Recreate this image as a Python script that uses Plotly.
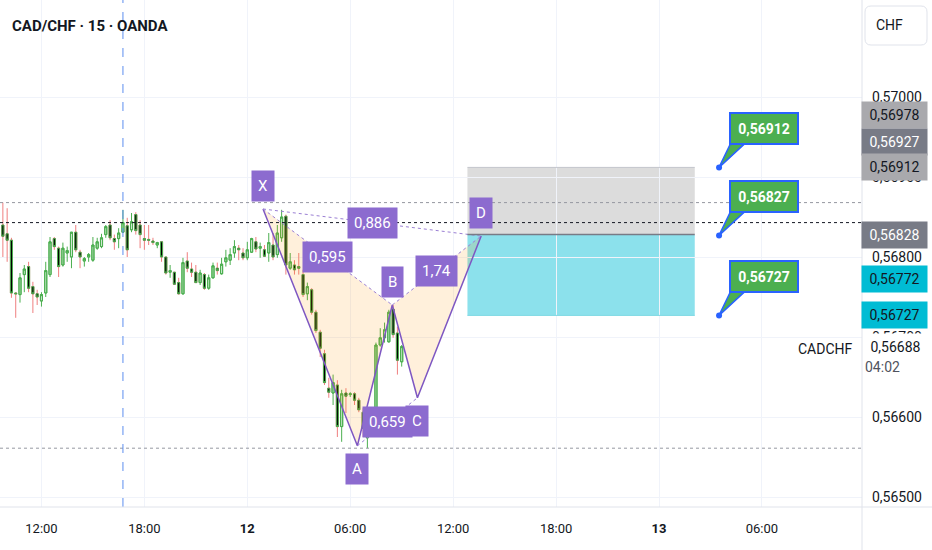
import pandas as pd
import plotly.graph_objects as go

# ---------------- CAD/CHF 15-minute bars ----------------
FIRST_BAR = "2025-03-11 09:45"

opens = [0.56840, 0.56829, 0.56821, 0.56755, 0.56753, 0.56778, 0.56788, 0.56763, 0.56754, 0.56745,
         0.56755, 0.56778, 0.56823, 0.56811, 0.56790, 0.56805, 0.56800, 0.56831, 0.56806, 0.56795,
         0.56800, 0.56796, 0.56811, 0.56813, 0.56828, 0.56840, 0.56823, 0.56823, 0.56831, 0.56839,
         0.56834, 0.56853, 0.56840, 0.56823, 0.56822, 0.56820, 0.56815, 0.56819, 0.56800, 0.56781,
         0.56781, 0.56768, 0.56754, 0.56795, 0.56785, 0.56781, 0.56768, 0.56778, 0.56761, 0.56774,
         0.56786, 0.56779, 0.56794, 0.56796, 0.56805, 0.56811, 0.56805, 0.56799, 0.56806, 0.56819,
         0.56811, 0.56809, 0.56805, 0.56815, 0.56803, 0.56824, 0.56851, 0.56786, 0.56790, 0.56788,
         0.56778, 0.56754, 0.56759, 0.56731, 0.56706, 0.56679, 0.56636, 0.56630, 0.56640, 0.56588,
         0.56630, 0.56628, 0.56629, 0.56621, 0.56606, 0.56574, 0.56593, 0.56605, 0.56690, 0.56699,
         0.56694, 0.56735, 0.56705, 0.56669]
highs = [0.56868, 0.56861, 0.56824, 0.56756, 0.56780, 0.56790, 0.56794, 0.56769, 0.56759, 0.56756,
         0.56794, 0.56825, 0.56825, 0.56813, 0.56818, 0.56813, 0.56831, 0.56840, 0.56809, 0.56800,
         0.56805, 0.56825, 0.56824, 0.56829, 0.56840, 0.56846, 0.56828, 0.56836, 0.56859, 0.56849,
         0.56855, 0.56856, 0.56846, 0.56840, 0.56840, 0.56824, 0.56819, 0.56819, 0.56800, 0.56790,
         0.56781, 0.56774, 0.56799, 0.56806, 0.56793, 0.56790, 0.56784, 0.56780, 0.56778, 0.56793,
         0.56793, 0.56799, 0.56809, 0.56811, 0.56821, 0.56815, 0.56811, 0.56819, 0.56824, 0.56825,
         0.56818, 0.56815, 0.56830, 0.56830, 0.56840, 0.56859, 0.56853, 0.56805, 0.56796, 0.56805,
         0.56784, 0.56768, 0.56761, 0.56734, 0.56709, 0.56684, 0.56649, 0.56653, 0.56646, 0.56634,
         0.56636, 0.56631, 0.56631, 0.56624, 0.56611, 0.56596, 0.56611, 0.56693, 0.56711, 0.56718,
         0.56734, 0.56740, 0.56713, 0.56690]
lows = [0.56800, 0.56794, 0.56749, 0.56724, 0.56743, 0.56756, 0.56756, 0.56730, 0.56740, 0.56738,
        0.56750, 0.56775, 0.56809, 0.56775, 0.56788, 0.56794, 0.56786, 0.56806, 0.56786, 0.56788,
        0.56794, 0.56794, 0.56809, 0.56811, 0.56824, 0.56821, 0.56809, 0.56811, 0.56830, 0.56800,
        0.56831, 0.56828, 0.56811, 0.56809, 0.56815, 0.56815, 0.56811, 0.56794, 0.56778, 0.56774,
        0.56765, 0.56753, 0.56753, 0.56781, 0.56775, 0.56768, 0.56765, 0.56759, 0.56759, 0.56773,
        0.56778, 0.56778, 0.56788, 0.56790, 0.56799, 0.56796, 0.56796, 0.56796, 0.56805, 0.56806,
        0.56799, 0.56800, 0.56794, 0.56796, 0.56799, 0.56819, 0.56778, 0.56784, 0.56778, 0.56778,
        0.56750, 0.56746, 0.56728, 0.56705, 0.56675, 0.56640, 0.56624, 0.56615, 0.56575, 0.56569,
        0.56605, 0.56625, 0.56615, 0.56606, 0.56575, 0.56561, 0.56588, 0.56603, 0.56688, 0.56693,
        0.56693, 0.56699, 0.56653, 0.56663]
closes = [0.56826, 0.56821, 0.56755, 0.56754, 0.56774, 0.56785, 0.56761, 0.56754, 0.56750, 0.56753,
          0.56783, 0.56819, 0.56813, 0.56788, 0.56811, 0.56808, 0.56831, 0.56809, 0.56800, 0.56798,
          0.56803, 0.56815, 0.56819, 0.56824, 0.56838, 0.56824, 0.56819, 0.56830, 0.56843, 0.56809,
          0.56844, 0.56833, 0.56828, 0.56821, 0.56821, 0.56818, 0.56818, 0.56800, 0.56780, 0.56783,
          0.56766, 0.56754, 0.56793, 0.56786, 0.56781, 0.56768, 0.56780, 0.56761, 0.56774, 0.56789,
          0.56783, 0.56791, 0.56799, 0.56803, 0.56813, 0.56809, 0.56799, 0.56809, 0.56823, 0.56810,
          0.56813, 0.56801, 0.56818, 0.56800, 0.56830, 0.56850, 0.56790, 0.56794, 0.56784, 0.56786,
          0.56753, 0.56763, 0.56731, 0.56708, 0.56686, 0.56643, 0.56631, 0.56643, 0.56588, 0.56629,
          0.56626, 0.56629, 0.56621, 0.56609, 0.56586, 0.56593, 0.56605, 0.56690, 0.56699, 0.56709,
          0.56731, 0.56703, 0.56671, 0.56688]

times = pd.date_range(FIRST_BAR, periods=len(opens), freq="15min")

# ---------------- axes ----------------
x_range = ["2025-03-11 09:35", "2025-03-13 11:50"]
tick_times = ["2025-03-11 12:00", "2025-03-11 18:00", "2025-03-12 00:00", "2025-03-12 06:00",
              "2025-03-12 12:00", "2025-03-12 18:00", "2025-03-13 00:00", "2025-03-13 06:00"]
tick_labels = ["12:00", "18:00", "<b>12</b>", "06:00", "12:00", "18:00", "<b>13</b>", "06:00"]
y_range = [0.564875, 0.5712125]
price_ticks = [0.565, 0.566, 0.567, 0.568, 0.569, 0.570]

# ---------------- XABCD pattern ----------------
pattern_names = ["X", "A", "B", "C", "D"]
pattern_times = ["2025-03-12 00:55", "2025-03-12 06:25", "2025-03-12 08:27",
                 "2025-03-12 09:55", "2025-03-12 13:38"]
pattern_prices = [0.56860, 0.56564, 0.56740, 0.56624, 0.568262]

# ---------------- short position ----------------
position_start = "2025-03-12 12:50"
position_end = "2025-03-13 02:05"
entry_price = 0.56828
stop_price = 0.56912
target_price = 0.56727

# price callouts
callout_time = "2025-03-13 03:30"
callout_prices = [0.56912, 0.56827, 0.56727]

# price-scale tags
axis_tag_prices = [0.56978, 0.56927, 0.56912, 0.56828, 0.56772, 0.56727]

# other markers
reference_line_price = 0.56843
session_marker_time = "2025-03-11 16:45"
countdown_text = "04:02"
title_text = "CAD/CHF · 15 · OANDA"
symbol_text = "CADCHF"
currency_text = "CHF"

# ---------------- styling ----------------
FONT = "Roboto"
TEXT = "#131722"
GRID = "#f0f3fa"
BORDER = "#e0e3eb"
GREEN = "#4caf50"
UP_FILL = "rgba(76,175,80,0.15)"
RED = "#ef7f7f"
PURPLE_LINE = "#7e57c2"
PURPLE_BOX = "#8c6bcf"
PATTERN_FILL = "rgba(255,152,0,0.14)"
CALLOUT_BORDER = "#2962ff"
tag_bg = ["#a9a9ad", "#787b86", "#a9a9ad", "#787b86", "#00bcd4", "#00bcd4"]
tag_fg = [TEXT, "white", TEXT, "white", TEXT, TEXT]
tag_shift = [0, 13, 0, 0, 0, 0]


def fmt(p):
    return f"{p:.5f}".replace(".", ",")


def ratio_text(v):
    return f"{v:.3g}".replace(".", ",")


def rounded_rect(x0, y0, x1, y1, r):
    return (f"M {x0 + r} {y0} L {x1 - r} {y0} Q {x1} {y0} {x1} {y0 + r} "
            f"L {x1} {y1 - r} Q {x1} {y1} {x1 - r} {y1} L {x0 + r} {y1} "
            f"Q {x0} {y1} {x0} {y1 - r} L {x0} {y0 + r} Q {x0} {y0} {x0 + r} {y0} Z")


fig = go.Figure()

# pattern fills (XAB and BCD triangles)
pt = [pd.Timestamp(t) for t in pattern_times]
pp = pattern_prices
for idx in ([0, 1, 2, 0], [2, 3, 4, 2]):
    fig.add_trace(go.Scatter(
        x=[pt[i] for i in idx], y=[pp[i] for i in idx], mode="lines",
        fill="toself", fillcolor=PATTERN_FILL, line=dict(width=0),
        hoverinfo="skip"))

# candles: full range (wicks) then bodies on top
body_hi = [max(o, c) for o, c in zip(opens, closes)]
body_lo = [min(o, c) for o, c in zip(opens, closes)]
fig.add_trace(go.Candlestick(
    x=times, open=opens, high=highs, low=lows, close=closes,
    increasing=dict(line=dict(color=GREEN, width=1), fillcolor=UP_FILL),
    decreasing=dict(line=dict(color=RED, width=1), fillcolor="#000000"),
    whiskerwidth=0, hoverinfo="skip"))
fig.add_trace(go.Candlestick(
    x=times, open=opens, high=body_hi, low=body_lo, close=closes,
    increasing=dict(line=dict(color=GREEN, width=1), fillcolor=UP_FILL),
    decreasing=dict(line=dict(color=GREEN, width=1), fillcolor="#000000"),
    whiskerwidth=0, hoverinfo="skip"))

# pattern legs
fig.add_trace(go.Scatter(x=pt, y=pp, mode="lines",
                         line=dict(color=PURPLE_LINE, width=1.5), hoverinfo="skip"))
dx, dy = [], []
for a, b in ((0, 2), (1, 3), (2, 4), (0, 4)):
    dx += [pt[a], pt[b], None]
    dy += [pp[a], pp[b], None]
fig.add_trace(go.Scatter(x=dx, y=dy, mode="lines",
                         line=dict(color="#9b7fd4", width=1, dash="dot"), hoverinfo="skip"))

# callout anchor dots
fig.add_trace(go.Scatter(
    x=[callout_time] * len(callout_prices), y=callout_prices, mode="markers",
    marker=dict(color=CALLOUT_BORDER, size=6), hoverinfo="skip"))

shapes = []
# position tool
shapes.append(dict(type="rect", xref="x", yref="y", x0=position_start, x1=position_end,
                   y0=entry_price, y1=stop_price, fillcolor="rgba(150,150,150,0.33)",
                   line=dict(width=0), layer="below"))
shapes.append(dict(type="rect", xref="x", yref="y", x0=position_start, x1=position_end,
                   y0=target_price, y1=entry_price, fillcolor="rgba(0,188,212,0.45)",
                   line=dict(width=0), layer="below"))
shapes.append(dict(type="line", xref="x", yref="y", x0=position_start, x1=position_end,
                   y0=stop_price, y1=stop_price, line=dict(color="#c3c5cc", width=1)))
shapes.append(dict(type="line", xref="x", yref="y", x0=position_start, x1=position_end,
                   y0=target_price, y1=target_price, line=dict(color="#7fd8e4", width=1)))
shapes.append(dict(type="line", xref="x", yref="y", x0=position_start, x1=position_end,
                   y0=entry_price, y1=entry_price, line=dict(color="#787b86", width=1.5)))

# visible-range high / low and reference lines
for price, color in ((max(highs), "#9598a1"), (min(lows), "#9598a1"),
                     (reference_line_price, "#131722")):
    shapes.append(dict(type="line", xref="paper", yref="y", x0=0, x1=1, y0=price, y1=price,
                       line=dict(color=color, width=1, dash="dot")))

# session marker
shapes.append(dict(type="line", xref="x", yref="paper", x0=session_marker_time,
                   x1=session_marker_time, y0=0, y1=1,
                   line=dict(color="#5b8def", width=1, dash="dash")))

# price-scale separator and bottom border
shapes.append(dict(type="line", xref="paper", yref="paper", x0=1, x1=1, y0=-0.2, y1=1,
                   line=dict(color=BORDER, width=1)))
shapes.append(dict(type="line", xref="paper", yref="paper", x0=0, x1=1.2, y0=0, y1=0,
                   line=dict(color=BORDER, width=1)))

# currency box
shapes.append(dict(type="path", xref="paper", yref="paper", xsizemode="pixel",
                   ysizemode="pixel", xanchor=1, yanchor=1,
                   path=rounded_rect(3, -45, 65, -6, 6),
                   fillcolor="white", line=dict(color=BORDER, width=1)))

# callout tails
for price in callout_prices:
    shapes.append(dict(type="path", xref="x", yref="y", xsizemode="pixel",
                       ysizemode="pixel", xanchor=callout_time, yanchor=price,
                       path="M 0 0 L 12 25 L 27 25 Z", fillcolor=GREEN,
                       line=dict(color=CALLOUT_BORDER, width=1.5)))

annotations = []
annotations.append(dict(xref="paper", yref="paper", x=0, y=1, xanchor="left",
                        yanchor="middle", xshift=10, yshift=-26, showarrow=False,
                        text=f"<b>{title_text}</b>", font=dict(size=15, color=TEXT)))
annotations.append(dict(xref="paper", yref="paper", x=1, y=1, xanchor="center",
                        yanchor="middle", xshift=27, yshift=-25, showarrow=False,
                        text=currency_text, font=dict(size=14, color=TEXT)))

# pattern point labels
above = {"X": True, "A": False, "B": True, "C": False, "D": True}
for name, t, p in zip(pattern_names, pt, pp):
    annotations.append(dict(xref="x", yref="y", x=t, y=p, showarrow=False, text=name,
                            yshift=23 if above[name] else -23, bgcolor=PURPLE_BOX,
                            borderpad=6, font=dict(size=15, color="white")))


def ratio(a, b, c, d):
    return abs(pp[d] - pp[c]) / abs(pp[b] - pp[a])


# pattern ratio labels, centred on the dotted connectors
ratio_defs = [((0, 2), ratio(0, 1, 1, 2)), ((1, 3), ratio(1, 2, 2, 3)),
              ((2, 4), ratio(2, 3, 3, 4)), ((0, 4), ratio(0, 1, 1, 4))]
for (a, b), v in ratio_defs:
    mt = pt[a] + (pt[b] - pt[a]) / 2
    mp = (pp[a] + pp[b]) / 2
    annotations.append(dict(xref="x", yref="y", x=mt, y=mp, showarrow=False,
                            text=ratio_text(v), bgcolor=PURPLE_BOX, borderpad=6,
                            font=dict(size=15, color="white")))

# price-scale tags
for price, bg, fg, sh in zip(axis_tag_prices, tag_bg, tag_fg, tag_shift):
    annotations.append(dict(xref="paper", yref="y", x=1, y=price, xanchor="left",
                            yanchor="middle", xshift=-1, yshift=sh, showarrow=False,
                            text=fmt(price), bgcolor=bg, width=59, height=20, borderpad=3,
                            font=dict(size=14, color=fg)))

last_price = closes[-1]
annotations.append(dict(xref="paper", yref="y", x=1, y=last_price, xanchor="left",
                        yanchor="middle", xshift=1, showarrow=False, text=fmt(last_price),
                        bgcolor="white", width=59, height=22, borderpad=2,
                        font=dict(size=14, color=TEXT)))
annotations.append(dict(xref="paper", yref="y", x=1, y=last_price, xanchor="left",
                        yanchor="middle", xshift=1, yshift=-20, showarrow=False,
                        text=countdown_text, bgcolor="white", width=59, height=18,
                        borderpad=1, font=dict(size=14, color="#50535e"), align="left"))
annotations.append(dict(xref="paper", yref="y", x=1, y=last_price, xanchor="right",
                        yanchor="middle", xshift=-7, yshift=-2, showarrow=False,
                        text=symbol_text, font=dict(size=14, color=TEXT)))

# callout boxes
for price in callout_prices:
    annotations.append(dict(xref="x", yref="y", x=callout_time, y=price, xanchor="center",
                            yanchor="middle", xshift=45, yshift=39, showarrow=False,
                            text=f"<b>{fmt(price)}</b>", bgcolor=GREEN,
                            bordercolor=CALLOUT_BORDER, borderwidth=2, borderpad=3,
                            width=60, height=23, font=dict(size=14, color="white")))

fig.update_layout(
    width=932, height=550,
    margin=dict(l=0, r=70, t=0, b=43),
    paper_bgcolor="white", plot_bgcolor="white",
    showlegend=False, separators=",.",
    font=dict(family=FONT, size=13, color=TEXT),
    shapes=shapes, annotations=annotations,
    xaxis=dict(type="date", range=x_range, rangeslider=dict(visible=False),
               tickmode="array", tickvals=tick_times, ticktext=tick_labels,
               showgrid=True, gridcolor=GRID, zeroline=False, showline=False,
               ticks="", ticklabelstandoff=12, tickfont=dict(size=13, color=TEXT)),
    yaxis=dict(side="right", range=y_range, tickmode="array", tickvals=price_ticks,
               tickformat=".5f", showgrid=True, gridcolor=GRID, zeroline=False,
               showline=False, ticks="", ticklabelstandoff=9,
               tickfont=dict(size=14, color=TEXT)),
)

fig.write_html("out.html")
